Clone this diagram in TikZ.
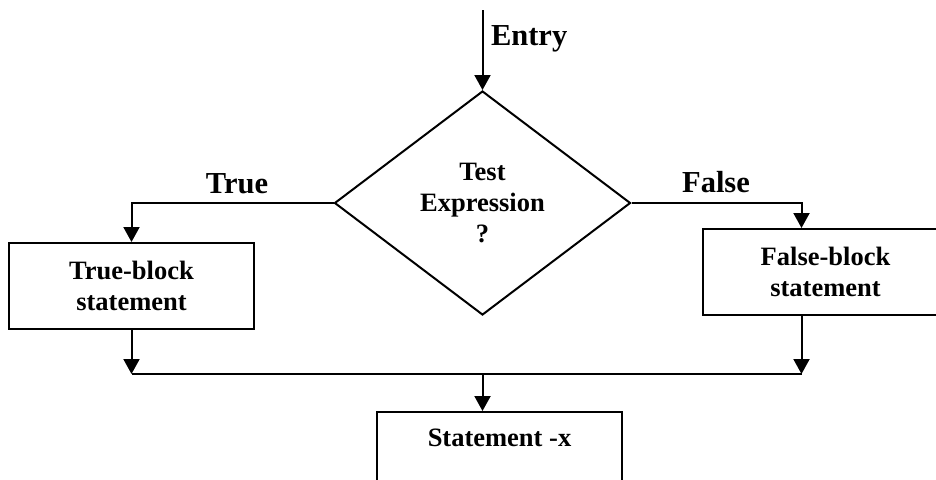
\documentclass[tikz,border=0pt]{standalone}
\usepackage{fontspec}
\setmainfont{Liberation Serif}
\usetikzlibrary{arrows.meta,shapes.geometric}
\begin{document}
\begin{tikzpicture}[x=1pt,y=-1pt,
  line width=2pt,
  flow/.style={-{Triangle[width=16pt,length=15pt]}},
  stmt/.style={draw, rectangle, minimum width=245pt, minimum height=86pt,
    inner sep=0pt, align=center, font=\fontsize{26.5}{31}\selectfont\bfseries},
  decision/.style={draw, diamond, minimum width=296pt, minimum height=224pt,
    inner sep=0pt, align=center, font=\fontsize{26.5}{31}\selectfont\bfseries},
  lbl/.style={font=\fontsize{30.5}{36}\selectfont\bfseries, inner sep=0pt}]
\path[use as bounding box, clip] (0,0) rectangle (936,479);

% decision and statement blocks
\node[decision] (test) at (482.5,203) {Test\\Expression\\?};
\node[stmt] (tb) at (131.5,286) {True-block\\statement};
\node[stmt] (fb) at (825.5,272) {False-block\\statement};
\node[stmt] (sx) at (499.5,455) {Statement -x\\[-6pt]\strut};

% free ends and the joining line
\coordinate (top) at (482.5,10);
\coordinate (jl) at (131.5,374);
\coordinate (jr) at (801.5,374);
\coordinate (jm) at (482.5,374);

% connectors
\draw[flow] (top) -- (test.north);
\draw[flow] (test.west) -| (tb.north);
\draw[flow] (test.east) -| ([xshift=-24pt]fb.north);
\draw[flow] (tb.south) -- (jl);
\draw[flow] ([xshift=-24pt]fb.south) -- (jr);
\draw (jl) -- (jr);
\draw[flow] (jm) -- (jm |- sx.north);

% branch labels
\node[lbl, anchor=base west] (lentry) at (490,45) {Entry};
\node[lbl, anchor=base] (ltrue) at (237,193) {True};
\node[lbl, anchor=base] (lfalse) at (716,192) {False};
\end{tikzpicture}
\end{document}
